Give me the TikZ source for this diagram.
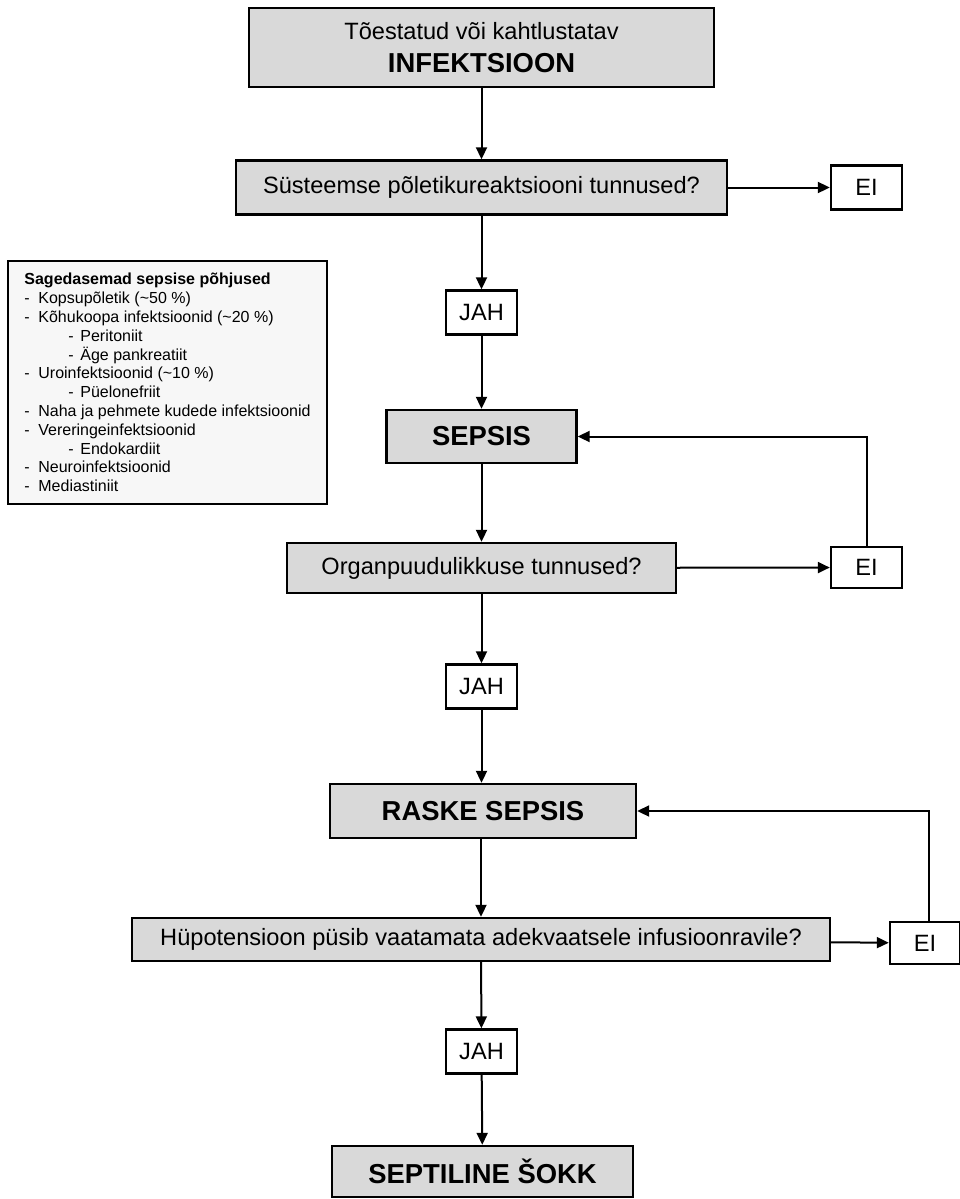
\documentclass[tikz,border=0pt]{standalone}
\usepackage{fontspec}
\setmainfont{Liberation Sans}
\usetikzlibrary{arrows.meta}

\newcommand{\causeitem}[1]{\makebox[7pt][l]{-}#1}
\newcommand{\subcause}[1]{\hspace*{22pt}\makebox[6pt][l]{-}#1}

\begin{document}
\begin{tikzpicture}[x=0.5pt,y=-0.5pt,
  mainbox/.style={draw,line width=1.2pt,fill=black!15,inner sep=0pt,align=center,
    font=\fontsize{13.7}{16.5}\selectfont\bfseries},
  askbox/.style={draw,line width=1.2pt,fill=black!15,inner sep=0pt,
    font=\fontsize{11.8}{14}\selectfont},
  answer/.style={draw,line width=1.2pt,fill=white,inner sep=0pt,
    minimum width=35.5pt,minimum height=22pt,font=\fontsize{11.8}{14}\selectfont},
  causebox/.style={draw,line width=1.2pt,fill=black!3,inner sep=0pt,
    minimum width=159.5pt,minimum height=121.5pt,align=left,
    font=\fontsize{8}{9.4}\selectfont},
  arr/.style={line width=1pt,-{Triangle[length=6pt,width=5.5pt]}}]
  \useasboundingbox (0,0) rectangle (959,1199);
  \node[mainbox,minimum width=232.5pt,minimum height=39.5pt] (infekt) at (481.5,47.5)
    {{\mdseries\fontsize{11.8}{16.5}\selectfont Tõestatud või kahtlustatav}\\INFEKTSIOON};
  \node[askbox,minimum width=245.5pt,minimum height=27pt] (sirs) at (481.5,187.5)
    {Süsteemse põletikureaktsiooni tunnused?};
  \node[answer] (ei1) at (866.5,187.5) {EI};
  \node[answer] (jah1) at (481.5,312.5) {JAH};
  \node[mainbox,minimum width=95pt,minimum height=26.5pt] (sepsis) at (481.5,436.5) {SEPSIS};
  \node[askbox,minimum width=194.5pt,minimum height=25pt] (organ) at (481.5,568) {Organpuudulikkuse tunnused?};
  \node[answer,minimum height=20.5pt] (ei2) at (866.5,567.5) {EI};
  \node[answer] (jah2) at (481.5,686.5) {JAH};
  \node[mainbox,minimum width=153pt,minimum height=27pt] (raske) at (483,811) {RASKE SEPSIS};
  \node[askbox,minimum width=349pt,minimum height=21.5pt] (hypo) at (481,939.5)
    {Hüpotensioon püsib vaatamata adekvaatsele infusioonravile?};
  \node[answer,minimum width=35pt,minimum height=21pt] (ei3) at (925,943) {EI};
  \node[answer] (jah3) at (481.5,1051.5) {JAH};
  \node[mainbox,minimum width=150.5pt,minimum height=25.5pt] (shock) at (482.5,1171.5) {SEPTILINE ŠOKK};
  \node[causebox] (causes) at (167.5,382.5) {\textbf{Sagedasemad sepsise põhjused}\\
    \causeitem{Kopsupõletik (\textasciitilde 50 \%)}\\
    \causeitem{Kõhukoopa infektsioonid (\textasciitilde 20 \%)}\\
    \subcause{Peritoniit}\\
    \subcause{Äge pankreatiit}\\
    \causeitem{Uroinfektsioonid (\textasciitilde 10 \%)}\\
    \subcause{Püelonefriit}\\
    \causeitem{Naha ja pehmete kudede infektsioonid}\\
    \causeitem{Vereringeinfektsioonid}\\
    \subcause{Endokardiit}\\
    \causeitem{Neuroinfektsioonid}\\
    \causeitem{Mediastiniit}};
  \draw[arr] (infekt) -- (sirs);
  \draw[arr] (sirs) -- (ei1);
  \draw[arr] (sirs) -- (jah1);
  \draw[arr] (jah1) -- (sepsis);
  \draw[arr] (sepsis) -- (organ);
  \draw[arr] (organ) -- (ei2);
  \draw[arr] (ei2) |- (sepsis);
  \draw[arr] (organ) -- (jah2);
  \draw[arr] (jah2) -- (raske.north -| jah2);
  \draw[arr] (raske.south -| hypo) -- (hypo);
  \draw[arr] (hypo) -- (ei3);
  \draw[arr] ([xshift=2pt]ei3.north) |- (raske);
  \draw[arr] (hypo) -- (jah3);
  \draw[arr] (jah3) -- (shock);
\end{tikzpicture}
\end{document}
